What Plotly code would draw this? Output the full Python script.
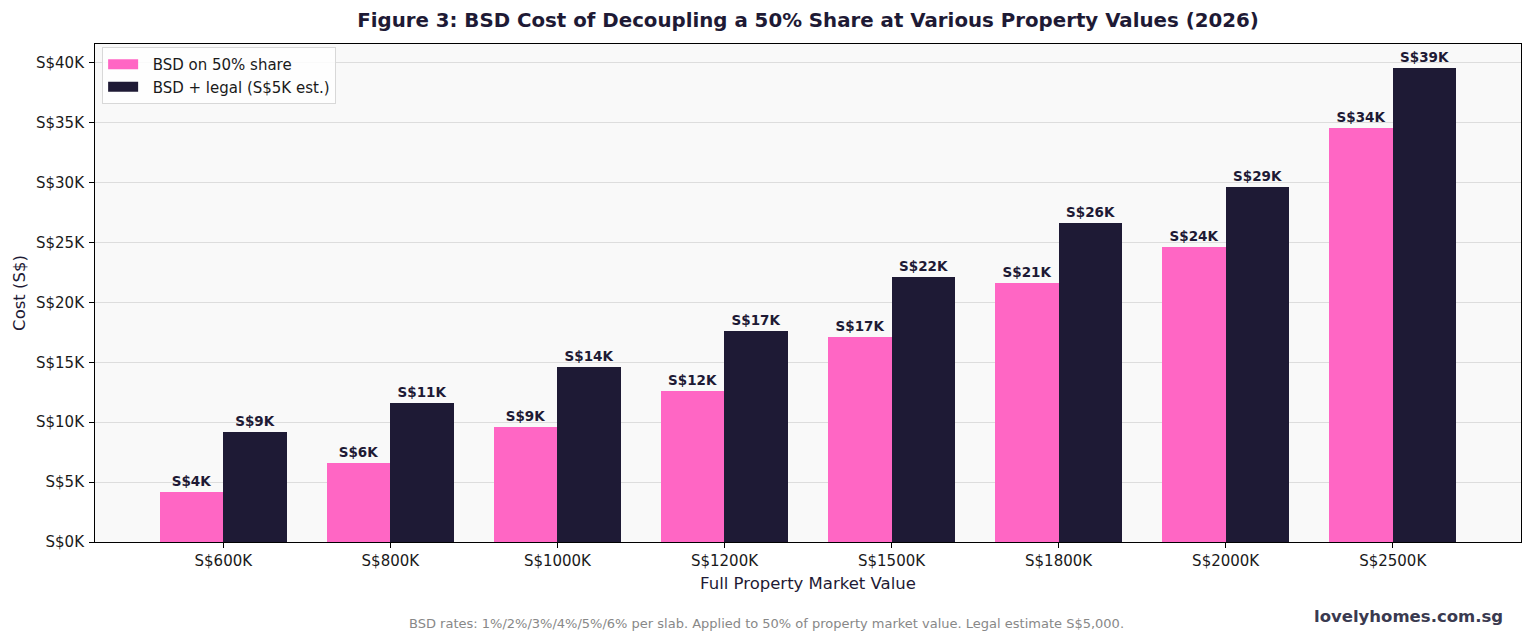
import plotly.graph_objects as go

categories = ["S$600K", "S$800K", "S$1000K", "S$1200K", "S$1500K", "S$1800K", "S$2000K", "S$2500K"]
bsd_50 = [4200, 6600, 9600, 12600, 17100, 21600, 24600, 34600]
bsd_legal = [9200, 11600, 14600, 17600, 22100, 26600, 29600, 39600]
y_tickvals = [0, 5000, 10000, 15000, 20000, 25000, 30000, 35000, 40000]
y_ticktext = ["S$0K", "S$5K", "S$10K", "S$15K", "S$20K", "S$25K", "S$30K", "S$35K", "S$40K"]
series_names = ["BSD on 50% share", "BSD + legal (S$5K est.)"]

PINK = "#ff66c4"
DARK = "#1e1a35"
FONT = "DejaVu Sans"

xs = list(range(len(categories)))

def lab(v):
    return f"S${int(v // 1000)}K"

fig = go.Figure()
for vals, col, off, nm in [(bsd_50, PINK, -0.38, series_names[0]), (bsd_legal, DARK, 0, series_names[1])]:
    fig.add_trace(go.Bar(x=xs, y=vals, width=0.38, offset=off, marker=dict(color=col, line=dict(width=0)),
                         name=nm, showlegend=False, text=[lab(v) for v in vals], textposition="outside",
                         textfont=dict(family=FONT, size=13.5, color=DARK, weight="bold"), cliponaxis=False))
# legend entries drawn as wide patches
for col, nm in [(PINK, series_names[0]), (DARK, series_names[1])]:
    fig.add_trace(go.Scatter(x=[None], y=[None], mode="lines", line=dict(color=col, width=10),
                             name="\u00a0\u00a0" + nm, showlegend=True))

fig.update_layout(
    width=1530, height=641,
    margin=dict(l=95, r=9, t=44, b=99),
    paper_bgcolor="white", plot_bgcolor="#f9f9f9",
    font=dict(family=FONT, size=15, color="#1a1a1a"),
    title=dict(text="<b>Figure 3: BSD Cost of Decoupling a 50% Share at Various Property Values (2026)</b>",
               xref="paper", x=0.5, xanchor="center", y=0.968, yanchor="middle",
               font=dict(family=FONT, size=19.8, color="#1e1a35")),
    showlegend=True,
    legend=dict(x=0.005, y=0.994, xanchor="left", yanchor="top", bgcolor="rgba(255,255,255,0.85)",
                bordercolor="#d8d8d8", borderwidth=1, font=dict(family=FONT, size=15, color="#1a1a1a"),
                itemwidth=30, tracegroupgap=1),
    bargap=0,
    xaxis=dict(range=[-0.768, 7.768], tickvals=xs, ticktext=categories, showgrid=False, zeroline=False,
               showline=True, linecolor="black", linewidth=1, mirror=True, ticks="outside", ticklen=5,
               tickcolor="black", tickfont=dict(size=15, color="#1a1a1a"),
               title=dict(text="Full Property Market Value", font=dict(size=16.5, color="#1e1a35"), standoff=8)),
    yaxis=dict(range=[0, 41580], tickvals=y_tickvals, ticktext=y_ticktext, showgrid=True, gridcolor="#dddddd",
               gridwidth=1, zeroline=False, showline=True, linecolor="black", linewidth=1, mirror=True,
               ticks="outside", ticklen=5, tickcolor="black", tickfont=dict(size=15, color="#1a1a1a"),
               ticklabelstandoff=2,
               title=dict(text="Cost (S$)", font=dict(size=16.5, color="#1e1a35"), standoff=6)),
    annotations=[
        dict(text="BSD rates: 1%/2%/3%/4%/5%/6% per slab. Applied to 50% of property market value. Legal estimate S$5,000.",
             xref="paper", yref="paper", x=(766 - 95) / 1426, y=-(623 - 542) / 498, xanchor="center", yanchor="middle",
             showarrow=False, font=dict(family=FONT, size=13, color="#888888")),
        dict(text="<b>lovelyhomes.com.sg</b>", xref="paper", yref="paper", x=(1505 - 95) / 1426, y=-(616 - 542) / 498,
             xanchor="right", yanchor="middle", showarrow=False, font=dict(family=FONT, size=16.5, color="#3a3a50")),
    ],
)

fig.write_html("out.html")
